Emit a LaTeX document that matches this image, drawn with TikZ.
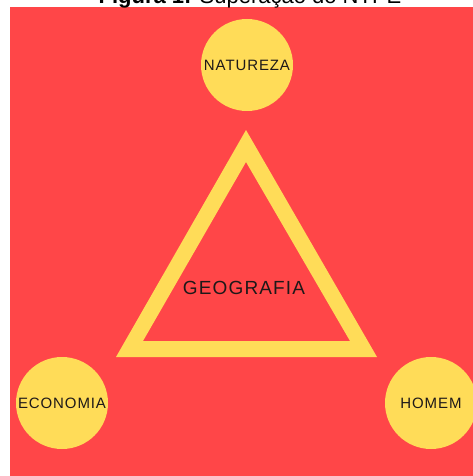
\documentclass[tikz,border=0pt]{standalone}
\usepackage{fontspec}
\setmainfont{Liberation Sans}
\newfontfamily\spaced[LetterSpace=6]{Liberation Sans}
\begin{document}
\begin{tikzpicture}[x=1pt,y=-1pt,
  bubble/.style={circle,fill=yel,minimum size=92pt,inner sep=0pt,text=txt,font=\spaced\fontsize{15}{15}\selectfont},
  lbl/.style={text=txt,inner sep=0pt}]
\definecolor{redbg}{RGB}{255,70,72}
\definecolor{yel}{RGB}{255,220,88}
\definecolor{txt}{RGB}{30,25,25}
\useasboundingbox (0,0) rectangle (473,476);
\fill[redbg] (10,7) rectangle (473,476);
\node[anchor=base,inner sep=0pt] (title) at (250,4) {\fontsize{22}{22}\selectfont\textbf{Figura 1:} Superação do NTPE};
\begin{scope}
\clip (10,7) rectangle (473,476);
\fill[yel,even odd rule] (246,130) -- (377,357) -- (116,357) -- cycle
  (246,162) -- (350,341) -- (143,341) -- cycle;
\node[bubble] (nat) at (247,65) {NATUREZA};
\node[bubble] (eco) at (62,403) {ECONOMIA};
\node[bubble] (hom) at (431,403) {HOMEM};
\end{scope}
\node[lbl,font=\spaced\fontsize{19}{19}\selectfont] (geo) at (244,288) {GEOGRAFIA};
\end{tikzpicture}
\end{document}
